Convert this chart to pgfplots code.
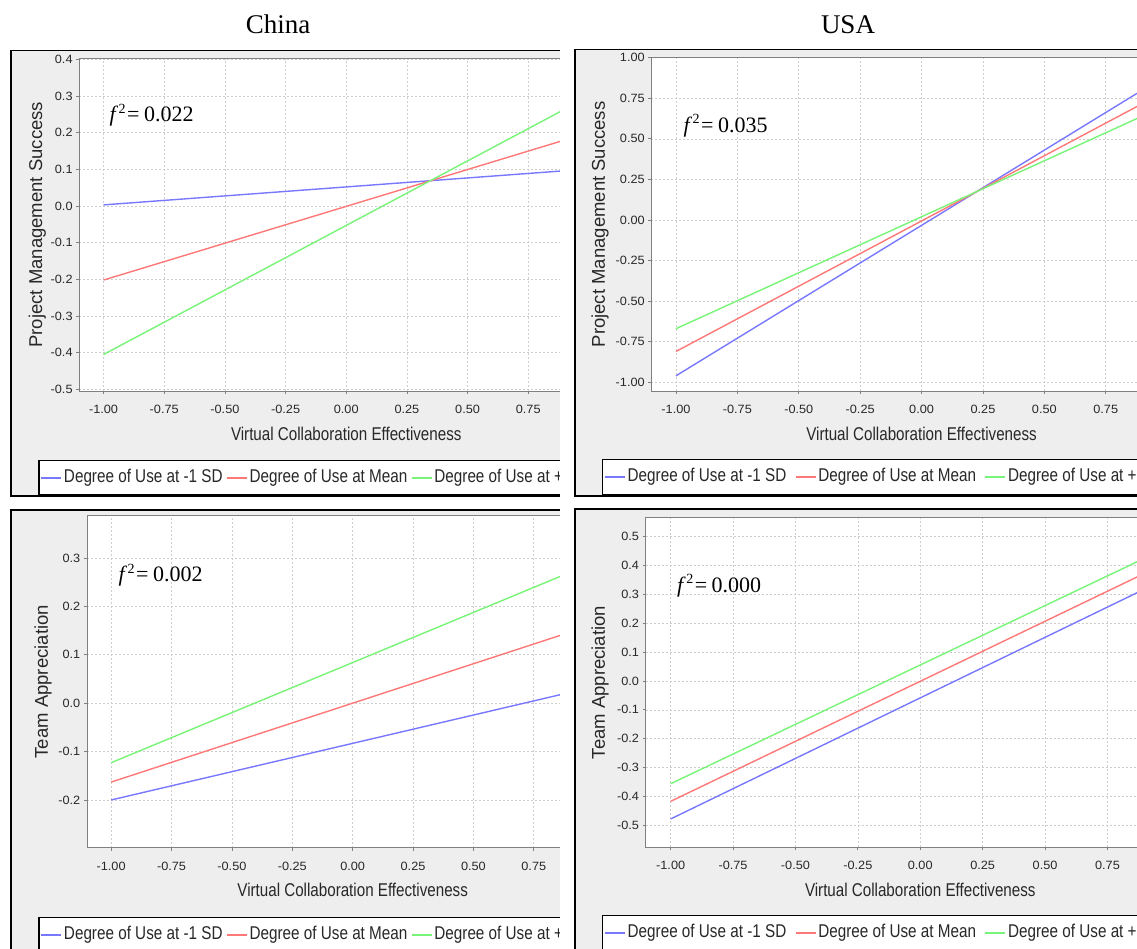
\documentclass[border=0pt]{standalone}
\usepackage{fontspec}
\usepackage{pgfplots}
\pgfplotsset{compat=1.18}
\setmainfont{Liberation Serif}
\newfontfamily\tickfam[FakeStretch=1.06]{Liberation Sans}
\newfontfamily\labfam[FakeStretch=0.82]{Liberation Sans}
\newfontfamily\legfam[FakeStretch=0.825]{Liberation Sans}
\newfontfamily\yfam{Liberation Sans}
\definecolor{sblue}{RGB}{120,120,255}
\definecolor{sred}{RGB}{255,120,120}
\definecolor{sgreen}{RGB}{120,245,120}
\definecolor{panelbg}{RGB}{238,238,238}
\definecolor{axgray}{RGB}{128,128,128}
\definecolor{gridgray}{RGB}{205,205,205}
\definecolor{txt}{RGB}{40,40,40}
\newcommand{\fsq}[1]{{\fontsize{22}{24}\selectfont\itshape f\upshape\kern3pt\raisebox{8.5pt}{\fontsize{14}{14}\selectfont 2}\kern1.5pt=\kern4.5pt#1}}

\pgfplotsset{
  jf/.style={
    scale only axis,
    xmin=-1.1, xmax=1.1,
    axis background/.style={fill=white},
    axis line style={draw=axgray, line width=0.8pt},
    grid=major,
    major grid style={draw=gridgray, line width=0.6pt, dash pattern=on 2pt off 2pt},
    tick align=outside, tick pos=left,
    major tick length=3pt,
    every tick/.style={draw=axgray, line width=0.8pt},
    xtick={-1,-0.75,-0.5,-0.25,0,0.25,0.5,0.75,1},
    xticklabels={-1.00,-0.75,-0.50,-0.25,0.00,0.25,0.50,0.75,1.00},
    ticklabel style={font=\tickfam\fontsize{12}{12}\selectfont, inner sep=0pt, text=txt},
    xticklabel style={anchor=north, yshift=-11pt},
    yticklabel style={anchor=east, xshift=-3.5pt},
    xlabel={Virtual Collaboration Effectiveness},
    every axis x label/.style={at={(axis description cs:0.5,0)}, anchor=center, yshift=-42.5pt, text=txt, font=\labfam\fontsize{18.5}{20}\selectfont},
    legend columns=3,
    legend image code/.code={\draw[##1, line width=1.5pt] (0pt,0pt) -- (20pt,0pt);},
    legend style={draw=black, line width=1.4pt, fill=white, anchor=north west,
      at={(axis description cs:0,0)}, font=\legfam\fontsize{18.5}{20}\selectfont,
      inner xsep=1.5pt, inner ysep=1.6pt,
      nodes={inner xsep=2pt, inner ysep=7pt, text height=13.5pt, text depth=4pt, text=txt},
      /tikz/every even column/.append style={column sep=4pt}},
  },
  legsep/.style={legend style={/tikz/every even column/.append style={column sep=#1}}},
  ylab/.style={every axis y label/.style={at={(axis description cs:0,0.5)}, xshift=#1, rotate=90, anchor=center, text=txt, font=\yfam\fontsize{18.5}{20}\selectfont}},
  sb/.style={color=sblue, line width=1.4pt},
  sr/.style={color=sred, line width=1.4pt},
  sg/.style={color=sgreen, line width=1.4pt},
}

\begin{document}
\begin{tikzpicture}
\useasboundingbox (0pt,0pt) rectangle (1137pt,948pt);
\fill[white] (0pt,0pt) rectangle (1137pt,948pt);

\node[anchor=base, font=\fontsize{27}{29}\selectfont] at (278pt,914pt) {China};
\node[anchor=base, font=\fontsize{27}{29}\selectfont] at (848pt,914pt) {USA};

% ---------- Panel 1: China, Project Management Success
\filldraw[fill=panelbg, draw=black, line width=1.5pt] (11pt,452pt) rectangle (568pt,897.5pt);
\begin{axis}[jf, ylab=-42pt, legsep=1.5pt,
  at={(79.3pt,557pt)}, anchor=south west,
  width=533.9pt, height=332.4pt,
  ymin=-0.5046, ymax=0.402,
  ytick={-0.5,-0.4,-0.3,-0.2,-0.1,0,0.1,0.2,0.3,0.4},
  yticklabels={-0.5,-0.4,-0.3,-0.2,-0.1,0.0,0.1,0.2,0.3,0.4},
  ylabel={Project Management Success},
  legend style={xshift=-41pt, yshift=-68.8pt}]
\addplot[sb] coordinates {(-1,0.003) (1,0.101)};
\addlegendentry{Degree of Use at -1 SD}
\addplot[sr] coordinates {(-1,-0.202) (1,0.200)};
\addlegendentry{Degree of Use at Mean}
\addplot[sg] coordinates {(-1,-0.405) (1,0.299)};
\addlegendentry{Degree of Use at +1 SD}
\end{axis}
\node[anchor=base west] at (106pt,826.3pt) {\fsq{0.022}};

% ---------- Panel 3: China, Team Appreciation
\filldraw[fill=panelbg, draw=black, line width=1.5pt] (11pt,-60pt) rectangle (568pt,438pt);
\begin{axis}[jf, ylab=-43.8pt, legsep=1.5pt,
  at={(87pt,100.3pt)}, anchor=south west,
  width=531.3pt, height=332pt,
  ymin=-0.2986, ymax=0.3874,
  ytick={-0.2,-0.1,0,0.1,0.2,0.3},
  yticklabels={-0.2,-0.1,0.0,0.1,0.2,0.3},
  ylabel={Team Appreciation},
  legend style={xshift=-48.7pt, yshift=-69pt}]
\addplot[sb] coordinates {(-1,-0.200) (1,0.034)};
\addlegendentry{Degree of Use at -1 SD}
\addplot[sr] coordinates {(-1,-0.163) (1,0.163)};
\addlegendentry{Degree of Use at Mean}
\addplot[sg] coordinates {(-1,-0.123) (1,0.291)};
\addlegendentry{Degree of Use at +1 SD}
\end{axis}
\node[anchor=base west] at (115pt,366.3pt) {\fsq{0.002}};

% white gap between the cropped left and right screenshots
\fill[white] (560pt,-10pt) rectangle (575pt,950pt);

% ---------- Panel 2: USA, Project Management Success
\filldraw[fill=panelbg, draw=black, line width=1.5pt] (575pt,452pt) rectangle (1200pt,898.5pt);
\begin{axis}[jf, ylab=-51.4pt, legsep=6.5pt,
  at={(651.4pt,557pt)}, anchor=south west,
  width=540.3pt, height=333.3pt,
  ymin=-1.0536, ymax=1.0,
  ytick={-1,-0.75,-0.5,-0.25,0,0.25,0.5,0.75,1},
  yticklabels={-1.00,-0.75,-0.50,-0.25,0.00,0.25,0.50,0.75,1.00},
  ylabel={Project Management Success},
  legend style={xshift=-49.4pt, yshift=-67.9pt}]
\addplot[sb] coordinates {(-1,-0.960) (1,0.894)};
\addlegendentry{Degree of Use at -1 SD}
\addplot[sr] coordinates {(-1,-0.810) (1,0.798)};
\addlegendentry{Degree of Use at Mean}
\addplot[sg] coordinates {(-1,-0.670) (1,0.710)};
\addlegendentry{Degree of Use at +1 SD}
\end{axis}
\node[anchor=base west] at (680pt,815.7pt) {\fsq{0.035}};

% ---------- Panel 4: USA, Team Appreciation
\filldraw[fill=panelbg, draw=black, line width=1.5pt] (575pt,-60pt) rectangle (1200pt,439pt);
\begin{axis}[jf, ylab=-45.7pt, legsep=6.5pt,
  at={(645.7pt,100.7pt)}, anchor=south west,
  width=549.1pt, height=329.6pt,
  ymin=-0.5762, ymax=0.5658,
  ytick={-0.5,-0.4,-0.3,-0.2,-0.1,0,0.1,0.2,0.3,0.4,0.5},
  yticklabels={-0.5,-0.4,-0.3,-0.2,-0.1,0.0,0.1,0.2,0.3,0.4,0.5},
  ylabel={Team Appreciation},
  legend style={xshift=-43.7pt, yshift=-67.7pt}]
\addplot[sb] coordinates {(-1,-0.478) (1,0.361)};
\addlegendentry{Degree of Use at -1 SD}
\addplot[sr] coordinates {(-1,-0.417) (1,0.415)};
\addlegendentry{Degree of Use at Mean}
\addplot[sg] coordinates {(-1,-0.356) (1,0.467)};
\addlegendentry{Degree of Use at +1 SD}
\end{axis}
\node[anchor=base west] at (673.6pt,355.7pt) {\fsq{0.000}};
\end{tikzpicture}
\end{document}
